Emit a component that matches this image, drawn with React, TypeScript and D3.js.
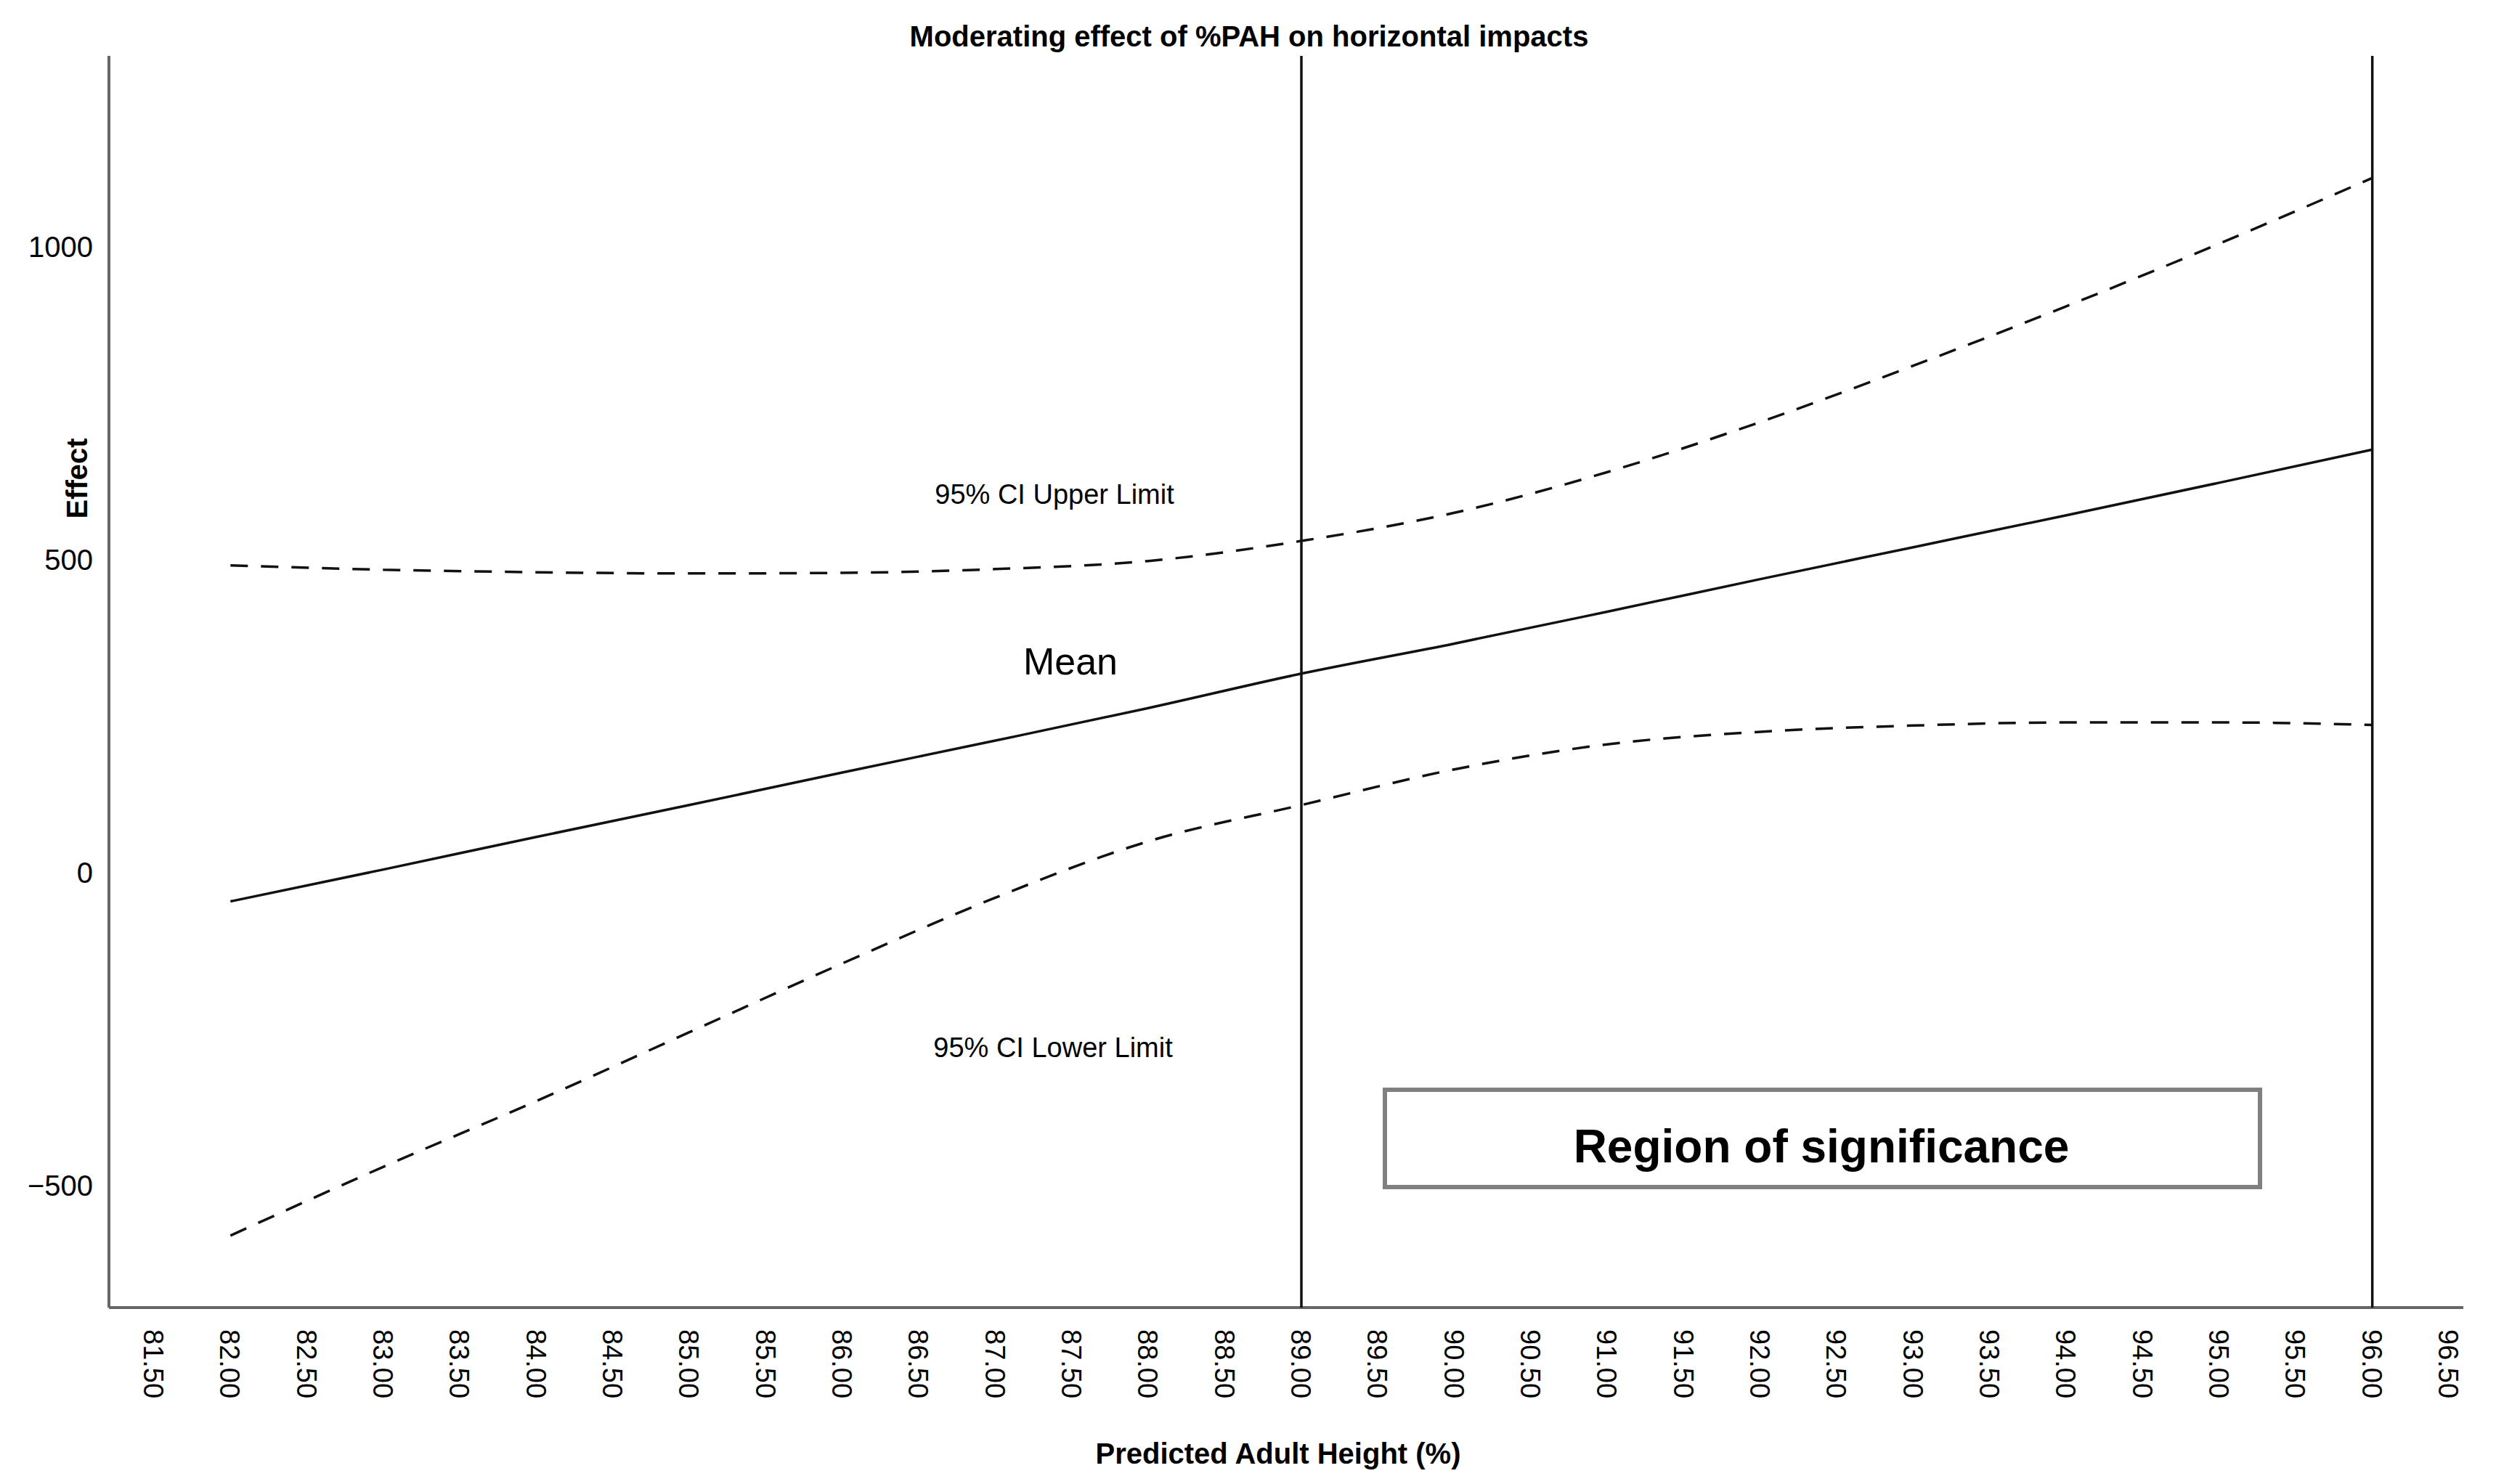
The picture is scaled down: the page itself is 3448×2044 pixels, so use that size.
import React from "react";
import * as d3 from "d3";

const xTicks = [81.5,82,82.5,83,83.5,84,84.5,85,85.5,86,86.5,87,87.5,88,88.5,89,89.5,90,90.5,91,91.5,92,92.5,93,93.5,94,94.5,95,95.5,96,96.5];
const yTicks = [-500, 0, 500, 1000];
const xs = [82,83,84,85,86,87,88,89,90,91,92,93,94,95,96];
const meanVals = [-46,5,57,108,160,211,263,318,366,417,469,520,571,623,676];
const upperVals = [491,484,480,478,479,485,498,530,575,640,720,810,905,1005,1110];
const lowerVals = [-580,-470,-365,-255,-145,-40,50,108,165,205,225,235,240,240,236];
const sigBounds = [89, 96];

export default function App() {
  const W = 3448, H = 2044;
  const L = 150, R = 3392, T = 77, B = 1801;
  const x = d3.scaleLinear().domain([81.5, 96.5]).range([212, 3372]);
  const y = d3.scaleLinear().domain([-695, 1305]).range([B, T]);
  const line = (vals: number[]) =>
    d3.line<number>().x((_, i) => x(xs[i])).y((d) => y(d)).curve(d3.curveMonotoneX)(vals) || "";
  const font = "'Liberation Sans', Arial, sans-serif";
  return (
    <svg width={W} height={H} style={{ display: "block", position: "absolute", left: 0, top: 0, background: "#fff" }} fontFamily={font}>
      <rect x={0} y={0} width={W} height={H} fill="#fff" />
      <text x={1720} y={64} textAnchor="middle" fontWeight="bold" fontSize={40}>Moderating effect of %PAH on horizontal impacts</text>
      <line x1={L} y1={T} x2={L} y2={B} stroke="#666" strokeWidth={4} />
      <line x1={L} y1={B} x2={R} y2={B} stroke="#666" strokeWidth={4} />
      {yTicks.map((t) => (
        <text key={t} x={128} y={y(t) + 14} textAnchor="end" fontSize={40}>{t < 0 ? "\u2212" + Math.abs(t) : t}</text>
      ))}
      {xTicks.map((t) => (
        <text key={t} transform={`translate(${x(t) - 14},${B + 30}) rotate(90)`} textAnchor="start" fontSize={38}>{t.toFixed(2)}</text>
      ))}
      <text transform={`translate(120,659) rotate(-90)`} textAnchor="middle" fontWeight="bold" fontSize={40}>Effect</text>
      <text x={1760} y={2016} textAnchor="middle" fontWeight="bold" fontSize={40}>Predicted Adult Height (%)</text>
      {sigBounds.map((b) => (
        <line key={b} x1={x(b)} y1={T} x2={x(b)} y2={B} stroke="#111" strokeWidth={3.5} />
      ))}
      <path d={line(meanVals)} fill="none" stroke="#111" strokeWidth={3.5} />
      <path d={line(upperVals)} fill="none" stroke="#111" strokeWidth={3.5} strokeDasharray="24 18" />
      <path d={line(lowerVals)} fill="none" stroke="#111" strokeWidth={3.5} strokeDasharray="24 18" />
      <text x={1452} y={694} textAnchor="middle" fontSize={38}>95% CI Upper Limit</text>
      <text x={1450} y={1456} textAnchor="middle" fontSize={38}>95% CI Lower Limit</text>
      <text x={1474} y={929} textAnchor="middle" fontSize={52}>Mean</text>
      <rect x={1907} y={1501} width={1205} height={134} fill="#fff" stroke="#808080" strokeWidth={6} />
      <text x={2508} y={1601} textAnchor="middle" fontWeight="bold" fontSize={64}>Region of significance</text>
    </svg>
  );
}
